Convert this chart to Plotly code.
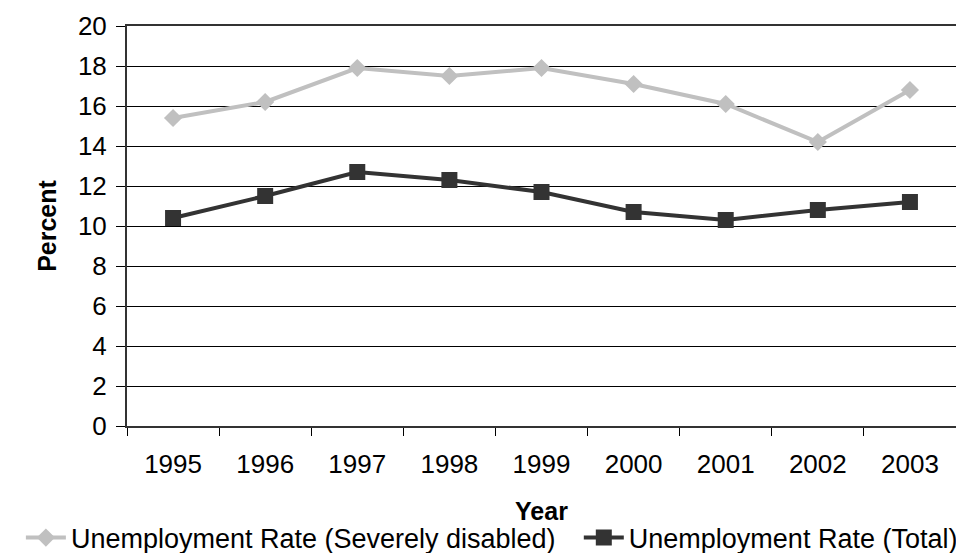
import plotly.graph_objects as go

years = ["1995", "1996", "1997", "1998", "1999", "2000", "2001", "2002", "2003"]
severelyDisabled = [15.4, 16.2, 17.9, 17.5, 17.9, 17.1, 16.1, 14.2, 16.8]
total = [10.4, 11.5, 12.7, 12.3, 11.7, 10.7, 10.3, 10.8, 11.2]
yTicks = [0, 2, 4, 6, 8, 10, 12, 14, 16, 18, 20]

fontName = "Liberation Sans, Arial, sans-serif"

fig = go.Figure()

fig.add_trace(go.Scatter(x=years, y=severelyDisabled, mode="lines+markers",
                         name="Unemployment Rate (Severely disabled)",
                         line=dict(color="#C0C0C0", width=4),
                         marker=dict(symbol="diamond", size=14, color="#C0C0C0"),
                         legend="legend"))
fig.add_trace(go.Scatter(x=years, y=total, mode="lines+markers",
                         name="Unemployment Rate (Total)",
                         line=dict(color="#333333", width=4),
                         marker=dict(symbol="square", size=16, color="#333333"),
                         legend="legend2"))

# page has an 8px body margin, so the figure is a bit smaller and shifted
# two legends side by side so the long row doesn't wrap
fig.update_layout(
    width=956, height=545,
    margin=dict(l=119, r=8, t=18, b=127, autoexpand=False),
    paper_bgcolor="white", plot_bgcolor="white",
    font=dict(family=fontName, size=26, color="black"),
    showlegend=True,
    legend=dict(orientation="h", x=-0.128, xanchor="left", y=-0.28, yanchor="middle",
                font=dict(size=27), itemwidth=40, bgcolor="rgba(0,0,0,0)"),
    legend2=dict(orientation="h", x=0.545, xanchor="left", y=-0.28, yanchor="middle",
                 font=dict(size=27), itemwidth=40, bgcolor="rgba(0,0,0,0)"),
)

fig.update_xaxes(type="category", tickson="boundaries", ticks="outside", ticklen=8,
                 tickcolor="black", tickwidth=1, showgrid=False,
                 showline=True, linecolor="#333333", linewidth=2, mirror=True,
                 ticklabelstandoff=14, range=[-0.5, 8.5], automargin=False,
                 title=dict(text="<b>Year</b>", font=dict(size=25), standoff=24))
fig.update_yaxes(range=[0, 20], tickvals=yTicks, ticks="outside", ticklen=9,
                 tickcolor="black", tickwidth=1,
                 showgrid=True, gridcolor="black", gridwidth=1,
                 showline=True, linecolor="#333333", linewidth=2, mirror=True,
                 zeroline=False, ticklabelstandoff=4, automargin=False,
                 title=dict(text="<b>Percent</b>", font=dict(size=25), standoff=14))

fig.write_html("out.html")
